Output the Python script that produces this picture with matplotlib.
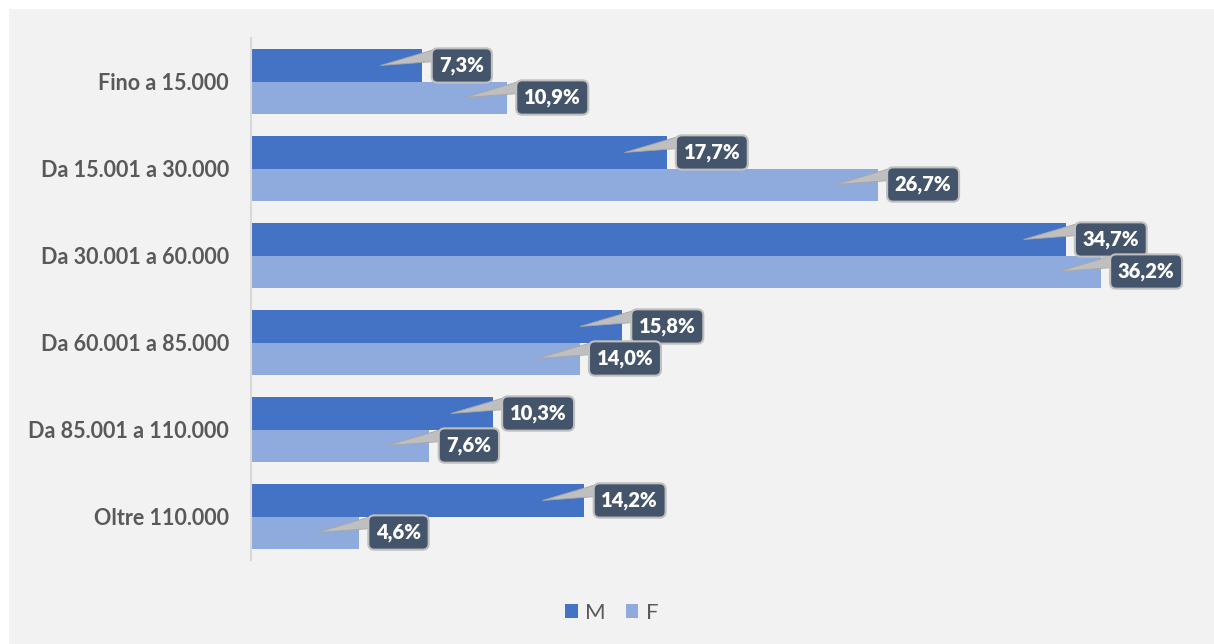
import matplotlib.pyplot as plt
from matplotlib.patches import Rectangle, Polygon, Patch
import numpy as np

plt.rcParams['font.family'] = ['Lato', 'DejaVu Sans']

# income brackets and share of each gender
categories = ['Fino a 15.000', 'Da 15.001 a 30.000', 'Da 30.001 a 60.000',
              'Da 60.001 a 85.000', 'Da 85.001 a 110.000', 'Oltre 110.000']
male = [7.3, 17.7, 34.7, 15.8, 10.3, 14.2]
female = [10.9, 26.7, 36.2, 14.0, 7.6, 4.6]
series = [('M', male, '#4472c4'), ('F', female, '#8faadc')]

W, H = 1214, 644
fig = plt.figure(figsize=(W / 100, H / 100), dpi=100, facecolor='white')
fig.patches.append(Rectangle((9 / W, 0), 1 - 9 / W, 1 - 9 / H, transform=fig.transFigure,
                             facecolor='#f2f2f2', edgecolor='none', zorder=-10))

ax = fig.add_axes([251 / W, (H - 560) / H, 939 / W, 522 / H])
ax.set_facecolor('none')
ax.set_xlim(0, 40)
ax.set_ylim(len(categories) - 0.5, -0.5)

pos = np.arange(len(categories))
bh = 0.368
for k, (name, vals, col) in enumerate(series):
    off = -bh / 2 if k == 0 else bh / 2
    ax.barh(pos + off, vals, height=bh, color=col, zorder=2)

for s in ['top', 'right', 'bottom']:
    ax.spines[s].set_visible(False)
ax.spines['left'].set_color('#d9d9d9')
ax.spines['left'].set_linewidth(1.5)
ax.set_xticks([])
ax.set_yticks(pos)
ax.set_yticklabels(categories, fontsize=15.5, fontweight='bold', color='#595959')
ax.tick_params(axis='y', length=0, pad=16)

# callout labels: rounded box right of the bar end with a wedge pointing into the bar
inv = ax.transData.inverted()
for k, (name, vals, col) in enumerate(series):
    off = -bh / 2 if k == 0 else bh / 2
    for i, v in enumerate(vals):
        yc = pos[i] + off
        ex, ey = ax.transData.transform((v, yc))
        pts = [(ex - 42, ey), (ex + 12, ey + 16), (ex + 12, ey + 4)]
        ax.add_patch(Polygon(inv.transform(pts), closed=True, facecolor='#bfbfbf',
                             edgecolor='#a6a6a6', linewidth=0.6, zorder=3))
        ax.annotate(f'{v:.1f}%'.replace('.', ','), xy=(v, yc), xycoords='data',
                    xytext=(17, 0), textcoords='offset pixels', ha='left', va='center',
                    fontsize=14.5, fontweight='heavy', color='white', zorder=4,
                    bbox=dict(boxstyle='round,pad=0.38,rounding_size=0.3',
                              facecolor='#44546a', edgecolor='#bfbfbf', linewidth=1.5))

handles = [Patch(facecolor=c, edgecolor='none', label=n) for n, _, c in series]
fig.legend(handles=handles, loc='center', bbox_to_anchor=(612 / W, 1 - 613 / H), ncol=2,
           frameon=False, handlelength=0.55, handleheight=0.55, handletextpad=0.35,
           columnspacing=0.9, prop={'size': 16}, labelcolor='#595959')

fig.savefig('out.png', dpi=100, facecolor=fig.get_facecolor())
